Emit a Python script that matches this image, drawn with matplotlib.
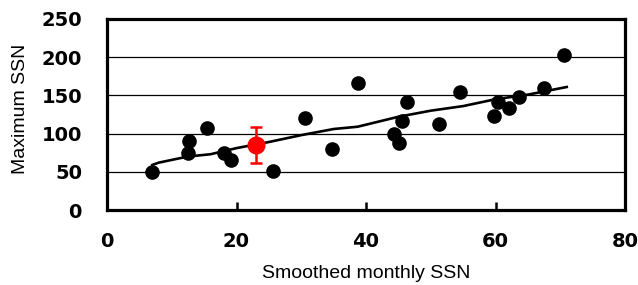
import matplotlib
matplotlib.use("Agg")
import matplotlib.pyplot as plt

# Scatter data (smoothed monthly SSN vs maximum SSN)
smoothed_ssn = [7.0, 12.5, 12.6, 15.5, 18.0, 19.2, 25.6, 30.6, 34.7, 38.7, 44.4, 45.1,
                45.6, 46.4, 51.3, 54.5, 59.8, 60.4, 62.1, 63.7, 67.5, 70.6]
max_ssn = [50, 75, 90, 107, 74, 65, 51, 121, 80, 166, 100, 88,
           117, 142, 113, 154, 123, 142, 134, 148, 160, 203]

# Highlighted (red) point with error bar
red_x = [23.0]
red_y = [85]
red_err = [23]

# Trend line
trend_x = [7, 8, 12.5, 16, 20, 25, 30, 35, 38.7, 45, 50, 55, 60, 65, 71]
trend_y = [59, 62, 70, 73, 81, 89, 98, 106, 109, 122, 130, 136, 145, 151, 161]

x_ticks = [0, 20, 40, 60, 80]
y_ticks = [0, 50, 100, 150, 200, 250]

fig = plt.figure(figsize=(6.38, 2.85), dpi=100)
ax = fig.add_axes([107/638, 1-210/285, (625-107)/638, (210-19)/285])

for yv in y_ticks[1:-1]:
    ax.axhline(yv, color="black", lw=0.9, zorder=1)

ax.plot(trend_x, trend_y, color="black", lw=1.9, zorder=3)
ax.plot(smoothed_ssn, max_ssn, "o", color="black", ms=9.5, zorder=4)
ax.errorbar(red_x, red_y, yerr=red_err, fmt="o", color="red", ms=12,
            capsize=4.5, elinewidth=1.8, capthick=1.8, zorder=5)

ax.set_xlim(0, 80)
ax.set_ylim(0, 250)
ax.set_xticks(x_ticks)
ax.set_yticks(y_ticks)
ax.tick_params(axis="x", direction="in", length=6, width=1.8, pad=16)
ax.tick_params(axis="y", length=0, pad=18)
for lab in ax.get_xticklabels() + ax.get_yticklabels():
    lab.set_fontfamily("DejaVu Sans")
    lab.set_fontweight("bold")
    lab.set_fontsize(14)

for s in ax.spines.values():
    s.set_linewidth(2.3)

ax.set_xlabel("Smoothed monthly SSN", fontfamily="Liberation Sans", fontsize=14, labelpad=10)
ax.set_ylabel("Maximum SSN", fontfamily="Liberation Sans", fontsize=14)
ax.yaxis.set_label_coords(-0.15, 0.53)

fig.savefig("out.png", dpi=100)
